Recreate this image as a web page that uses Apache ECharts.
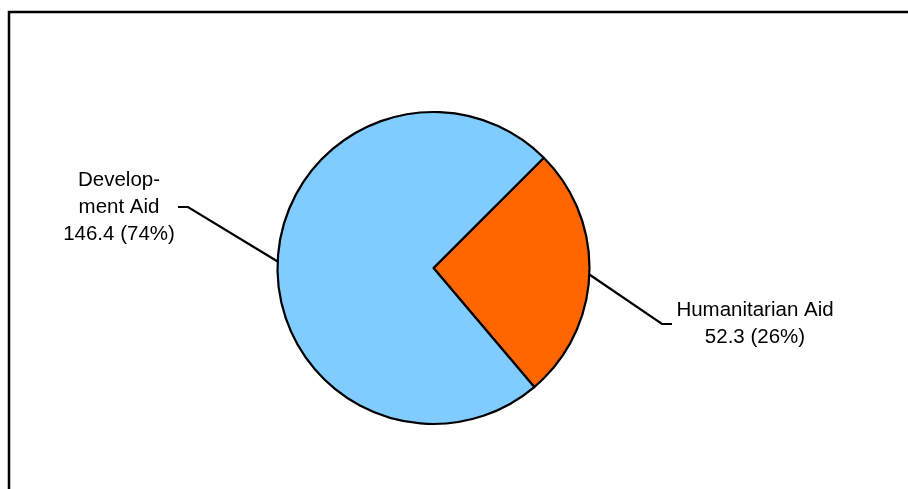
<!DOCTYPE html>
<html>
<head>
<meta charset="utf-8">
<style>
  html, body { margin: 0; padding: 0; background: #fff; }
  #chart { width: 908px; height: 489px; }
</style>
<script src="https://cdn.jsdelivr.net/npm/echarts@6/dist/echarts.min.js"></script>
</head>
<body>
<div id="chart"></div>
<script>
// Aid split (values in the chart's units)
const categories = ['Humanitarian Aid', 'Development Aid'];
const labelTexts = ['Humanitarian Aid', 'Develop-\nment Aid'];
const values = [52.3, 146.4];
const colors = ['#FF6600', '#80CCFF'];

const total = values.reduce((a, b) => a + b, 0);

// Where each label block sits, and the elbow of its leader line
const labelPlacement = [
  { x: 755, y: 324, elbow: [662, 324], end: [672, 324] },
  { x: 119, y: 207, elbow: [188, 207], end: [178, 207] }
];

const chart = echarts.init(document.getElementById('chart'), null, { renderer: 'canvas' });

chart.setOption({
  backgroundColor: '#ffffff',
  animation: false,
  graphic: [{
    type: 'rect',
    silent: true,
    shape: { x: 9, y: 12, width: 1200, height: 1200 },
    style: { fill: 'none', stroke: '#000', lineWidth: 2.5 }
  }],
  series: [{
    type: 'pie',
    center: [433.5, 268],
    radius: 156,
    startAngle: 45,
    clockwise: true,
    avoidLabelOverlap: false,
    itemStyle: { borderColor: '#000', borderWidth: 2.2 },
    label: {
      show: true,
      position: 'outside',
      color: '#000',
      fontFamily: 'Liberation Sans, Arial, sans-serif',
      fontSize: 20.5,
      lineHeight: 27,
      align: 'center',
      formatter: (p) => labelTexts[p.dataIndex] + '\n' +
        values[p.dataIndex].toFixed(1) + ' (' + Math.round(values[p.dataIndex] / total * 100) + '%)'
    },
    labelLine: {
      show: true,
      length: 20,
      length2: 10,
      smooth: false,
      lineStyle: { color: '#000', width: 2.2 }
    },
    labelLayout: (params) => {
      const lp = labelPlacement[params.dataIndex];
      const start = params.labelLinePoints ? params.labelLinePoints[0] : lp.elbow;
      return {
        x: lp.x,
        y: lp.y,
        align: 'center',
        verticalAlign: 'middle',
        labelLinePoints: [start, lp.elbow, lp.end]
      };
    },
    data: categories.map((name, i) => ({
      name: name,
      value: values[i],
      itemStyle: { color: colors[i] }
    }))
  }]
});
</script>
</body>
</html>
